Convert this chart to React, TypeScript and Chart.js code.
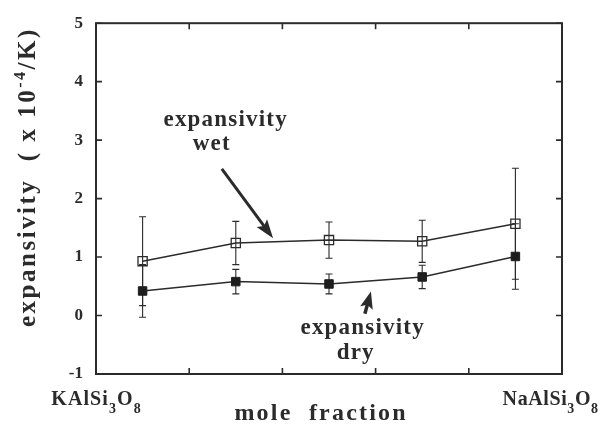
import React, { useEffect, useRef } from "react";
import { Chart, registerables } from "chart.js";

Chart.register(...registerables);

// ---- data ----
const xPositions = [0.1, 0.3, 0.5, 0.7, 0.9];
const wetValues = [0.93, 1.24, 1.29, 1.27, 1.57];
const wetErrors = [0.76, 0.37, 0.31, 0.36, 0.95];
const dryValues = [0.42, 0.58, 0.54, 0.66, 1.01];
const dryErrors = [0.45, 0.21, 0.17, 0.2, 0.56];
const yTicks = [-1, 0, 1, 2, 3, 4, 5];
const xTicks = [0, 0.2, 0.4, 0.6, 0.8, 1.0];
const xEndLabels = ["KAlSi|3|O|8", "NaAlSi|3|O|8"];
const xTitle = "mole  fraction";
const yTitle = "expansivity  ( x 10|-4|/K)";
const wetLabel = ["expansivity", "wet"];
const dryLabel = ["expansivity", "dry"];

const INK = "#2b2b2b";
const FONT = "'Liberation Serif', 'Times New Roman', serif";

type Part = { t: string; k: "n" | "sub" | "sup" };

function parseParts(s: string, alt: "sub" | "sup"): Part[] {
  return s.split("|").map((t, i) => ({ t, k: i % 2 === 1 ? alt : "n" }));
}

function charW(ctx: CanvasRenderingContext2D, ch: string, size: number) {
  ctx.font = `bold ${size}px ${FONT}`;
  return ctx.measureText(ch).width;
}

function richWidth(ctx: CanvasRenderingContext2D, parts: Part[], size: number, small: number, sp: number) {
  let w = 0;
  for (const p of parts) {
    const s = p.k === "n" ? size : small;
    for (const ch of p.t) w += charW(ctx, ch, s) + sp;
  }
  return w - sp;
}

function drawRich(
  ctx: CanvasRenderingContext2D,
  parts: Part[],
  x: number,
  y: number,
  size: number,
  small: number,
  sp: number,
  align: "left" | "center"
) {
  const w = richWidth(ctx, parts, size, small, sp);
  let cx = align === "center" ? x - w / 2 : x;
  ctx.textAlign = "left";
  ctx.textBaseline = "alphabetic";
  for (const p of parts) {
    const s = p.k === "n" ? size : small;
    const dy = p.k === "sub" ? size * 0.38 : p.k === "sup" ? -size * 0.42 : 0;
    ctx.font = `bold ${s}px ${FONT}`;
    for (const ch of p.t) {
      ctx.fillText(ch, cx, y + dy);
      cx += ctx.measureText(ch).width + sp;
    }
  }
}

function arrow(ctx: CanvasRenderingContext2D, x1: number, y1: number, x2: number, y2: number, lw: number, hl: number, hw: number) {
  const a = Math.atan2(y2 - y1, x2 - x1);
  const bx = x2 - hl * Math.cos(a);
  const by = y2 - hl * Math.sin(a);
  ctx.strokeStyle = INK;
  ctx.fillStyle = INK;
  ctx.lineWidth = lw;
  ctx.beginPath();
  ctx.moveTo(x1, y1);
  ctx.lineTo(x2 - hl * 0.6 * Math.cos(a), y2 - hl * 0.6 * Math.sin(a));
  ctx.stroke();
  ctx.beginPath();
  ctx.moveTo(x2, y2);
  ctx.lineTo(bx + (hw / 2) * Math.sin(a), by - (hw / 2) * Math.cos(a));
  ctx.lineTo(x2 - hl * 0.8 * Math.cos(a), y2 - hl * 0.8 * Math.sin(a));
  ctx.lineTo(bx - (hw / 2) * Math.sin(a), by + (hw / 2) * Math.cos(a));
  ctx.closePath();
  ctx.fill();
}

const decorPlugin = {
  id: "decor",
  beforeDatasetsDraw(chart: any) {
    const { ctx, scales } = chart;
    const xs = scales.x;
    const ys = scales.y;
    ctx.save();
    ctx.strokeStyle = INK;
    ctx.lineWidth = 1.1;
    const sets: [number[], number[]][] = [
      [wetValues, wetErrors],
      [dryValues, dryErrors],
    ];
    for (const [vals, errs] of sets) {
      vals.forEach((v, i) => {
        const px = xs.getPixelForValue(xPositions[i]);
        const top = ys.getPixelForValue(v + errs[i]);
        const bot = ys.getPixelForValue(v - errs[i]);
        ctx.beginPath();
        ctx.moveTo(px, top);
        ctx.lineTo(px, bot);
        ctx.moveTo(px - 3.5, top);
        ctx.lineTo(px + 3.5, top);
        ctx.moveTo(px - 3.5, bot);
        ctx.lineTo(px + 3.5, bot);
        ctx.stroke();
      });
    }
    ctx.restore();
  },
  afterDraw(chart: any) {
    const { ctx, chartArea, scales } = chart;
    const xs = scales.x;
    const ys = scales.y;
    const { left, right, top, bottom } = chartArea;
    ctx.save();
    // frame
    ctx.strokeStyle = INK;
    ctx.lineWidth = 2;
    ctx.strokeRect(left, top, right - left, bottom - top);
    // inward ticks
    ctx.lineWidth = 1.6;
    ctx.beginPath();
    for (const v of yTicks) {
      const py = ys.getPixelForValue(v);
      ctx.moveTo(left, py);
      ctx.lineTo(left + 6, py);
      ctx.moveTo(right, py);
      ctx.lineTo(right - 6, py);
    }
    for (const v of xTicks) {
      const px = xs.getPixelForValue(v);
      ctx.moveTo(px, bottom);
      ctx.lineTo(px, bottom - 6);
      ctx.moveTo(px, top);
      ctx.lineTo(px, top + 6);
    }
    ctx.stroke();

    ctx.fillStyle = INK;
    // end labels of x axis
    drawRich(ctx, parseParts(xEndLabels[0], "sub"), xs.getPixelForValue(0), 405, 20, 14, 1.1, "center");
    drawRich(ctx, parseParts(xEndLabels[1], "sub"), xs.getPixelForValue(0.975), 405, 20, 14, 0.6, "center");
    // x title
    drawRich(ctx, [{ t: xTitle, k: "n" }], (left + right) / 2 - 9, 420, 24, 24, 2.2, "center");
    // y title (rotated)
    ctx.save();
    ctx.translate(35, 327);
    ctx.rotate(-Math.PI / 2);
    drawRich(ctx, parseParts(yTitle, "sup"), 0, 0, 25, 16, 2.5, "left");
    ctx.restore();

    // annotations
    drawRich(ctx, [{ t: wetLabel[0], k: "n" }], xs.getPixelForValue(0.277), ys.getPixelForValue(3.34) + 6, 23, 23, 1.2, "center");
    drawRich(ctx, [{ t: wetLabel[1], k: "n" }], xs.getPixelForValue(0.247), ys.getPixelForValue(2.93) + 6, 23, 23, 1.2, "center");
    drawRich(ctx, [{ t: dryLabel[0], k: "n" }], xs.getPixelForValue(0.571), ys.getPixelForValue(-0.22) + 6, 23, 23, 1.2, "center");
    drawRich(ctx, [{ t: dryLabel[1], k: "n" }], xs.getPixelForValue(0.556), ys.getPixelForValue(-0.64) + 6, 23, 23, 1.2, "center");
    arrow(
      ctx,
      xs.getPixelForValue(0.27),
      ys.getPixelForValue(2.51),
      xs.getPixelForValue(0.38),
      ys.getPixelForValue(1.32),
      3,
      19,
      13
    );
    arrow(
      ctx,
      xs.getPixelForValue(0.577),
      ys.getPixelForValue(0.03),
      xs.getPixelForValue(0.59),
      ys.getPixelForValue(0.41),
      3.5,
      17,
      13
    );
    ctx.restore();
  },
};

export default function App() {
  const ref = useRef<HTMLCanvasElement>(null);
  useEffect(() => {
    if (!ref.current) return;
    const chart = new Chart(ref.current, {
      type: "line",
      data: {
        datasets: [
          {
            label: "wet",
            data: xPositions.map((x, i) => ({ x, y: wetValues[i] })),
            borderColor: INK,
            borderWidth: 1.5,
            pointStyle: "rect",
            pointRadius: 6.5,
            pointBackgroundColor: "rgba(0,0,0,0)",
            pointBorderColor: INK,
            pointBorderWidth: 1.3,
            tension: 0,
          },
          {
            label: "dry",
            data: xPositions.map((x, i) => ({ x, y: dryValues[i] })),
            borderColor: INK,
            borderWidth: 1.5,
            pointStyle: "rect",
            pointRadius: 6,
            pointBackgroundColor: "#1e1e1e",
            pointBorderColor: "#1e1e1e",
            pointBorderWidth: 1,
            tension: 0,
          },
        ],
      },
      options: {
        animation: false,
        responsive: false,
        devicePixelRatio: 1,
        layout: { padding: { top: 20, right: 47, bottom: 51, left: 0 } },
        plugins: { legend: { display: false }, tooltip: { enabled: false } },
        scales: {
          x: {
            type: "linear",
            min: 0,
            max: 1,
            display: false,
          },
          y: {
            type: "linear",
            min: -1,
            max: 5,
            afterFit: (s: any) => {
              s.width = 96;
            },
            afterBuildTicks: (s: any) => {
              s.ticks = yTicks.map((v) => ({ value: v }));
            },
            grid: { display: false, drawTicks: false },
            border: { display: false },
            ticks: {
              padding: 13,
              color: INK,
              font: { family: FONT, size: 17, weight: "bold" },
            },
          },
        },
      },
      plugins: [decorPlugin],
    } as any);
    return () => chart.destroy();
  }, []);
  return (
    <div style={{ position: "absolute", left: 0, top: 0, width: 609, height: 425, background: "#fff" }}>
      <canvas ref={ref} width={609} height={425} style={{ width: 609, height: 425, display: "block" }} />
    </div>
  );
}
